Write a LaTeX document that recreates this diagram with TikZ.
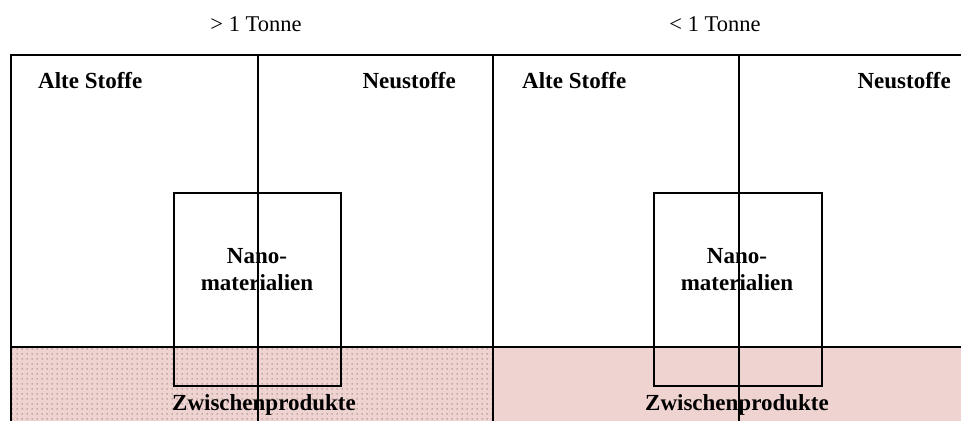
\documentclass[tikz,border=0pt]{standalone}
\usepackage{fontspec}
\setmainfont{Liberation Serif}
\usetikzlibrary{patterns}
\definecolor{pinkfill}{RGB}{239,211,209}
\pgfdeclarepatternformonly{sparsedots}{\pgfpointorigin}{\pgfpoint{5pt}{4.5pt}}{\pgfpoint{5pt}{4.5pt}}{%
  \pgfpathcircle{\pgfpoint{2.5pt}{2.25pt}}{0.6pt}\pgfusepath{fill}}
\tikzset{
  frame/.style={line width=1.4pt, black},
  thin/.style={line width=1.2pt, black},
  head/.style={font=\fontsize{23}{27}\selectfont\bfseries, inner sep=0pt},
  top/.style={font=\fontsize{22.5}{26}\selectfont, inner sep=0pt},
}
\begin{document}
\begin{tikzpicture}[x=1pt,y=-1pt]
\useasboundingbox (0,0) rectangle (961,421);
% fills
\fill[pinkfill] (11,347) rectangle (493,421);
\fill[pattern=sparsedots, pattern color=black!85] (11,347) rectangle (493,421);
\fill[pinkfill] (493,347) rectangle (961,421);
% frame
\draw[frame] (11,421) -- (11,55) -- (961,55);
\draw[frame] (493,55) -- (493,421);
\draw[frame] (11,347) -- (961,347);
\draw[thin] (258,55) -- (258,421);
\draw[thin] (739,55) -- (739,421);
% nano boxes
\draw[thin] (174,193) rectangle (341,386);
\draw[thin] (654,193) rectangle (822,386);
% texts
\node[top] (t1) at (256,24) {> 1 Tonne};
\node[top] (t2) at (715,24) {< 1 Tonne};
\node[head, anchor=west] (a1) at (38,81) {Alte Stoffe};
\node[head, anchor=east] (n1) at (456,81) {Neustoffe};
\node[head, anchor=west] (a2) at (522,81) {Alte Stoffe};
\node[head, anchor=east] (n2) at (951,81) {Neustoffe};
\node[head, align=center] (m1) at (257,270) {Nano-\\materialien};
\node[head, align=center] (m2) at (737,270) {Nano-\\materialien};
\node[head] (z1) at (264,405) {Zwischenprodukte};
\node[head] (z2) at (737,405) {Zwischenprodukte};
\end{tikzpicture}
\end{document}
